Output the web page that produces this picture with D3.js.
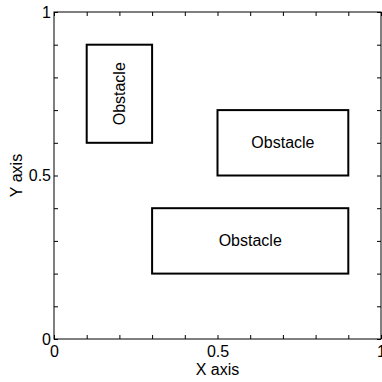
<!DOCTYPE html>
<html><head><meta charset="utf-8">
<script src="https://cdn.jsdelivr.net/npm/d3@7"></script>
<style>body{margin:0;background:#fff}svg{display:block}text{font-family:"Liberation Sans",Arial,sans-serif}</style>
</head><body>
<script>
const obstacleLabels = ["Obstacle","Obstacle","Obstacle"];
const obstacleX0 = [0.1, 0.5, 0.3];
const obstacleX1 = [0.3, 0.9, 0.9];
const obstacleY0 = [0.6, 0.5, 0.2];
const obstacleY1 = [0.9, 0.7, 0.4];
const obstacleRotated = [true, false, false];
const tickValues = [0,0.1,0.2,0.3,0.4,0.5,0.6,0.7,0.8,0.9,1];
const tickLabels = {0:"0",0.5:"0.5",1:"1"};

const W=382,H=382;
const m={l:54,r:1,t:12,b:43};
const svg=d3.select("body").append("svg").attr("width",W).attr("height",H);
const x=d3.scaleLinear().domain([0,1]).range([m.l,W-m.r]);
const y=d3.scaleLinear().domain([0,1]).range([H-m.b,m.t]);

const fmt=d=>tickLabels[d]!==undefined?tickLabels[d]:"";
function style(g){g.select(".domain").remove();g.selectAll("line").attr("stroke","#000");g.selectAll("text").attr("font-size",16).attr("fill","#000").attr("font-family","Liberation Sans, Arial, sans-serif");}
svg.append("g").attr("transform",`translate(0,${y(0)})`).call(d3.axisBottom(x).tickValues(tickValues).tickSize(-4).tickPadding(7).tickFormat(fmt)).call(style);
svg.append("g").attr("transform",`translate(${x(0)},0)`).call(d3.axisLeft(y).tickValues(tickValues).tickSize(-4).tickPadding(3).tickFormat(fmt)).call(style);
svg.append("g").attr("transform",`translate(0,${y(1)})`).call(d3.axisTop(x).tickValues(tickValues).tickSize(-4).tickFormat("")).call(style);
svg.append("g").attr("transform",`translate(${x(1)},0)`).call(d3.axisRight(y).tickValues(tickValues).tickSize(-4).tickFormat("")).call(style);
svg.append("rect").attr("x",x(0)).attr("y",y(1)).attr("width",x(1)-x(0)).attr("height",y(0)-y(1)).attr("fill","none").attr("stroke","#000").attr("stroke-width",1);

const idx=d3.range(obstacleLabels.length);
svg.selectAll("rect.obs").data(idx).join("rect").attr("class","obs")
 .attr("x",i=>x(obstacleX0[i])).attr("y",i=>y(obstacleY1[i]))
 .attr("width",i=>x(obstacleX1[i])-x(obstacleX0[i])).attr("height",i=>y(obstacleY0[i])-y(obstacleY1[i]))
 .attr("fill","none").attr("stroke","#000").attr("stroke-width",2);
svg.selectAll("text.obs").data(idx).join("text").attr("class","obs")
 .attr("transform",i=>{const cx=x((obstacleX0[i]+obstacleX1[i])/2),cy=y((obstacleY0[i]+obstacleY1[i])/2);return `translate(${cx},${cy})`+(obstacleRotated[i]?" rotate(-90)":"");})
 .attr("text-anchor","middle").attr("dy","0.33em").attr("font-size",16).text(i=>obstacleLabels[i]);

svg.append("text").attr("x",(x(0)+x(1))/2).attr("y",375).attr("text-anchor","middle").attr("font-size",16).text("X axis");
svg.append("text").attr("transform",`translate(22,${(y(0)+y(1))/2}) rotate(-90)`).attr("text-anchor","middle").attr("font-size",16).text("Y axis");
</script>
</body></html>
